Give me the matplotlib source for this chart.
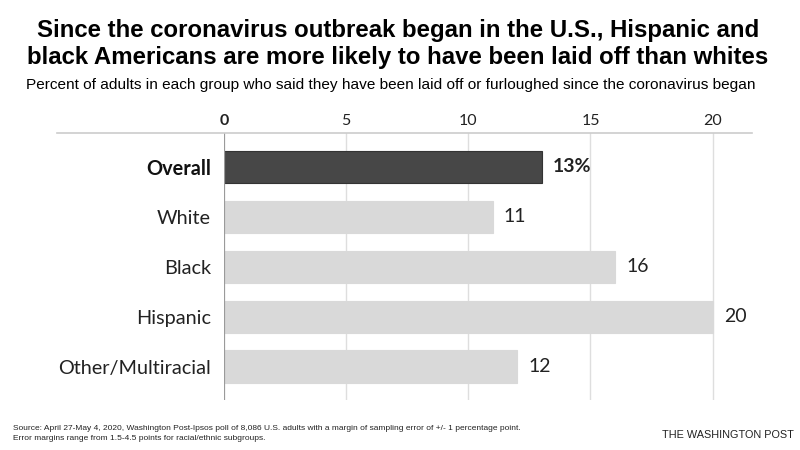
import matplotlib
matplotlib.use("Agg")
import matplotlib.pyplot as plt
from matplotlib.lines import Line2D

categories = ["Overall", "White", "Black", "Hispanic", "Other/Multiracial"]
values = [13, 11, 16, 20, 12]
ticks = [0, 5, 10, 15, 20]
tick_labels = ["0", "5", "10", "15", "20"]

title = ("Since the coronavirus outbreak began in the U.S., Hispanic and\n"
         "black Americans are more likely to have been laid off than whites")
subtitle = "Percent of adults in each group who said they have been laid off or furloughed since the coronavirus began"
source = ("Source: April 27-May 4, 2020, Washington Post-Ipsos poll of 8,086 U.S. adults with a margin of sampling error of +/- 1 percentage point.\n"
          "Error margins range from 1.5-4.5 points for racial/ethnic subgroups.")
credit = "THE WASHINGTON POST"

LBL = ["Lato", "DejaVu Sans"]
SANS = ["Liberation Sans", "DejaVu Sans"]

fig = plt.figure(figsize=(8, 4.5), dpi=100)
ax = fig.add_axes([0.28, 0.1111, 0.6596, 0.5926])

ypos = list(range(len(categories)))
colors = ["#474747"] + ["#d9d9d9"] * (len(categories) - 1)
edges = ["#333333"] + ["#d9d9d9"] * (len(categories) - 1)
ax.barh(ypos, values, height=0.65, color=colors, edgecolor=edges, linewidth=0.8, zorder=3)

ax.set_xlim(0, 21.6)
ax.set_ylim(4.667, -0.673)

for t in ticks[1:]:
    ax.axvline(t, color="#dedede", lw=1.0, zorder=1)
ax.axvline(0, color="#9a9a9a", lw=1.6, zorder=4)

for s in ax.spines.values():
    s.set_visible(False)
ax.set_xticks(ticks)
ax.set_xticklabels(tick_labels)
ax.xaxis.tick_top()
ax.tick_params(axis="x", length=0, pad=4, labelsize=11.5, labelcolor="#222222")
for lab in ax.get_xticklabels():
    lab.set_family(LBL)
ax.get_xticklabels()[0].set_fontweight("bold")

ax.set_yticks(ypos)
ax.set_yticklabels(categories)
ax.tick_params(axis="y", length=0, pad=9.5, labelsize=14.3, labelcolor="#222222")
for i, lab in enumerate(ax.get_yticklabels()):
    lab.set_family(LBL)
    if i == 0:
        lab.set_fontweight("bold")
        lab.set_color("#111111")

for i, v in enumerate(values):
    txt = f"{v}%" if i == 0 else f"{v}"
    ax.annotate(txt, (v, i), xytext=(8, 0), textcoords="offset points",
                va="center", ha="left", fontsize=14, family=LBL,
                fontweight="bold" if i == 0 else "normal", color="#222222")

# top rule spanning label area
fig.add_artist(Line2D([56.7 / 800, 751.7 / 800], [1 - 133.3 / 450] * 2,
                      color="#cccccc", lw=1.2, transform=fig.transFigure))

fig.text(398 / 800, 1 - 44 / 450, title, ha="center", va="center", fontsize=17.3,
         fontweight="bold", family=SANS, linespacing=1.25, color="black")
fig.text(26 / 800, 1 - 84.5 / 450, subtitle, ha="left", va="center", fontsize=11.1,
         family=SANS, color="black")
fig.text(13 / 800, 1 - 433 / 450, source, ha="left", va="center", fontsize=6.0,
         family=SANS, linespacing=1.6, color="#222222")
fig.text(794 / 800, 1 - 435 / 450, credit, ha="right", va="center", fontsize=7.8,
         family=SANS, color="#222222")

fig.savefig("out.png", dpi=100)
